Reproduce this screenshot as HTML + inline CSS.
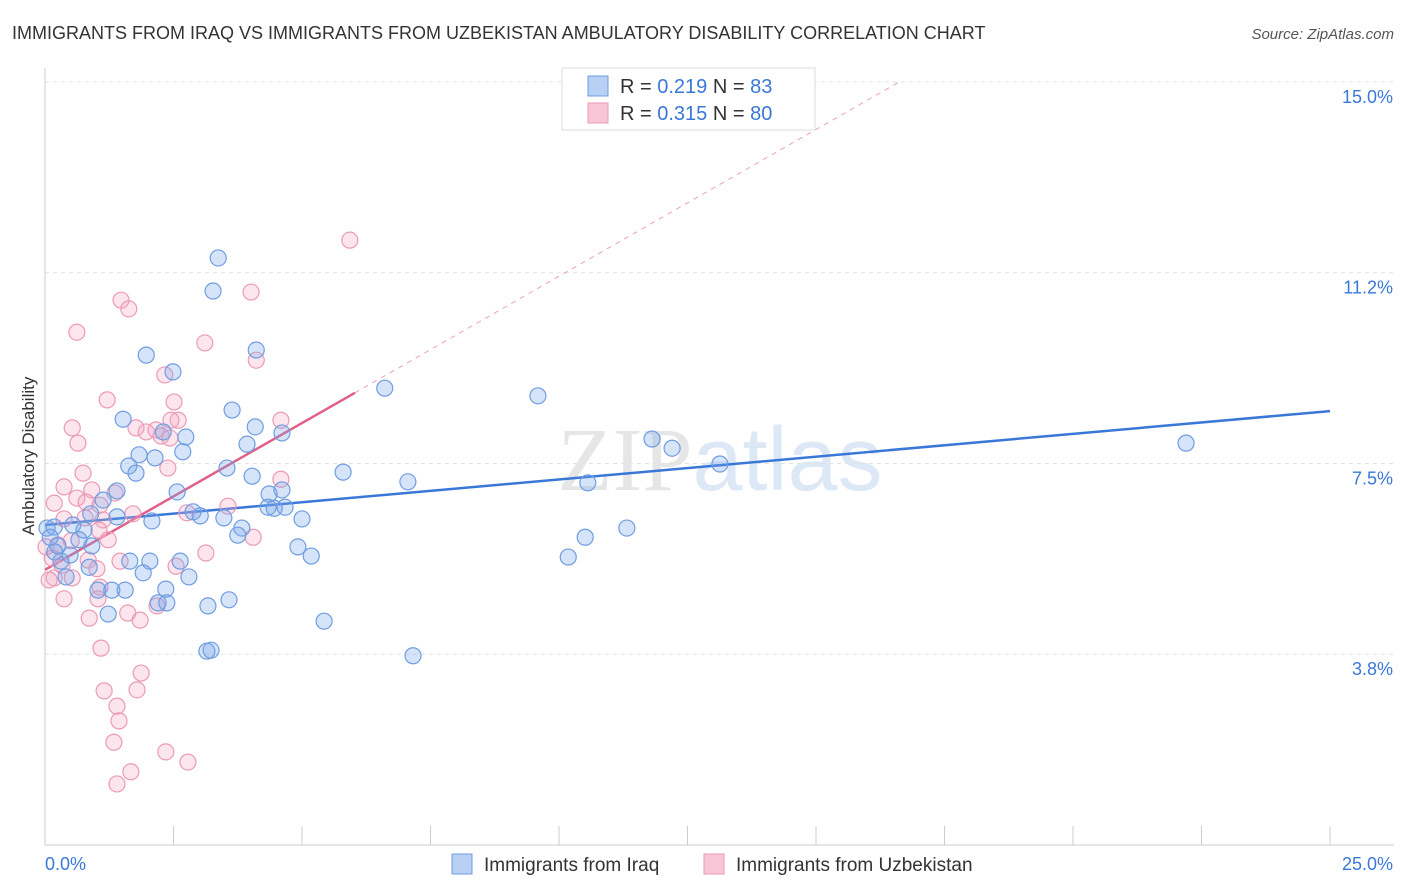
<!DOCTYPE html>
<html><head><meta charset="utf-8"><style>
body{margin:0;background:#fff;font-family:"Liberation Sans",sans-serif;}
#wrap{position:relative;width:1406px;height:892px;overflow:hidden;}
</style></head><body>
<div id="wrap">
<svg id="svg" width="1406" height="892" xmlns="http://www.w3.org/2000/svg" font-family="Liberation Sans, sans-serif">
<text x="12" y="39" font-size="18" fill="#333">IMMIGRANTS FROM IRAQ VS IMMIGRANTS FROM UZBEKISTAN AMBULATORY DISABILITY CORRELATION CHART</text>
<text x="1394" y="39" font-size="15" fill="#555" font-style="italic" text-anchor="end">Source: ZipAtlas.com</text>
<text x="720" y="490" font-size="90" fill="#e6e6e6" text-anchor="middle" font-family="Liberation Serif, serif">ZIP<tspan fill="#dde8f6" font-family="Liberation Sans, sans-serif">atlas</tspan></text>
<text transform="translate(34,456) rotate(-90)" font-size="17" fill="#333" text-anchor="middle">Ambulatory Disability</text>
<g id="grid"></g><g id="axes"></g><g id="lines"></g><g id="pts"></g>
<g>
<rect x="562" y="68" width="253" height="62" fill="#fff" stroke="#ddd"/>
<rect x="588" y="76" width="20" height="20" fill="#b7d0f3" stroke="#6f9de0"/>
<text x="620" y="93" font-size="20" fill="#333">R = <tspan fill="#3a78d8">0.219</tspan>   N = <tspan fill="#3a78d8">83</tspan></text>
<rect x="588" y="103" width="20" height="20" fill="#f8c6d6" stroke="#eb9ab5"/>
<text x="620" y="120" font-size="20" fill="#333">R = <tspan fill="#3a78d8">0.315</tspan>   N = <tspan fill="#3a78d8">80</tspan></text>
</g>
<g>
<rect x="452" y="854" width="20" height="20" fill="#b7d0f3" stroke="#6f9de0"/>
<text x="484" y="871" font-size="19" fill="#333">Immigrants from Iraq</text>
<rect x="704" y="854" width="20" height="20" fill="#f8c6d6" stroke="#eb9ab5"/>
<text x="736" y="871" font-size="19" fill="#333">Immigrants from Uzbekistan</text>
</g>
</svg></div>
<script>
const yTicks=[15.0,11.25,7.5,3.75];
const yTickLabels=["15.0%","11.2%","7.5%","3.8%"];
const xEndLabels=["0.0%","25.0%"];
const iraqX=[3.37,3.27,4.11,1.97,2.49,6.61,9.59,3.64,1.52,4.09,2.74,4.61,2.30,3.93,11.81,12.20,22.20,2.68,2.14,1.83,1.63,1.77,3.54,5.80,4.03,13.13,7.06,10.56,1.40,2.57,4.36,4.61,1.13,4.34,4.67,4.46,2.88,3.02,3.48,1.40,0.89,2.08,5.00,0.18,0.54,0.76,3.83,3.75,11.32,10.51,0.66,0.91,0.25,4.92,5.18,10.18,0.31,1.65,2.04,2.63,0.86,1.91,2.80,0.41,2.35,1.03,1.30,1.56,2.20,2.37,3.17,3.58,1.23,5.43,3.15,3.23,7.16,0.10,0.19,0.49,0.04];
const iraqY=[11.54,10.89,9.73,9.63,9.30,8.98,8.83,8.55,8.37,8.22,8.02,8.10,8.12,7.88,7.98,7.80,7.90,7.73,7.61,7.67,7.45,7.31,7.41,7.33,7.25,7.49,7.14,7.12,6.96,6.94,6.90,6.98,6.78,6.64,6.64,6.62,6.55,6.47,6.43,6.45,6.51,6.37,6.41,6.25,6.29,6.19,6.23,6.09,6.23,6.05,6.00,5.88,5.88,5.86,5.68,5.66,5.58,5.58,5.58,5.58,5.46,5.35,5.27,5.27,5.03,5.01,5.01,5.01,4.76,4.76,4.70,4.82,4.54,4.40,3.81,3.83,3.72,6.05,5.76,5.70,6.23];
const uzbX=[5.93,4.01,1.48,1.63,0.62,3.11,4.11,2.33,2.51,1.21,2.59,4.59,0.53,2.45,1.77,1.97,2.16,2.26,2.43,0.64,0.74,2.39,4.59,0.37,0.91,1.36,0.62,0.80,0.18,1.07,3.56,2.76,1.71,1.13,0.78,0.37,1.05,4.05,0.51,1.23,0.25,0.02,3.13,0.84,1.46,2.55,1.01,0.33,0.18,0.53,1.07,1.03,0.37,2.18,1.61,1.85,0.86,1.09,1.87,1.15,1.79,1.40,1.44,1.34,2.35,1.67,2.78,1.40,0.14,0.08];
const uzbY=[11.89,10.87,10.71,10.54,10.08,9.87,9.53,9.24,8.71,8.75,8.35,8.35,8.20,8.35,8.20,8.12,8.16,8.04,8.00,7.90,7.31,7.41,7.19,7.04,6.98,6.92,6.82,6.74,6.72,6.68,6.66,6.53,6.51,6.39,6.43,6.41,6.19,6.05,5.98,6.00,5.90,5.86,5.74,5.60,5.58,5.48,5.43,5.50,5.25,5.25,5.07,4.84,4.84,4.70,4.56,4.42,4.46,3.87,3.38,3.03,3.05,2.73,2.44,2.02,1.83,1.44,1.63,1.20,5.64,5.21];
const iraqTrend=[6.29,8.53];     // y at x=0 and x=25
const uzbTrend=[5.41,0.577,6.03]; // intercept, slope, solid-end x
const NS="http://www.w3.org/2000/svg";
const X0=45,X1=1330,Y0=845;
function xs(v){return X0+v*(X1-X0)/25;}
function ys(v){return Y0-v*50.87;}
function mk(tag,attrs,parent){const e=document.createElementNS(NS,tag);for(const k in attrs)e.setAttribute(k,attrs[k]);document.getElementById(parent).appendChild(e);return e;}
yTicks.forEach((t,i)=>{
  const l=mk('line',{x1:X0,x2:1394,y1:ys(t),y2:ys(t),stroke:'#e2e2e2','stroke-dasharray':'4,4'},'grid');
  
  
  const tx=mk('text',{x:1393,y:ys(t)+21,'font-size':18,fill:'#3a78d8','text-anchor':'end'},'axes');
  tx.textContent=yTickLabels[i];
  
  
});
let a=mk('line',{x1:X0,x2:X0,y1:68,y2:Y0,stroke:'#ccc'},'axes');


a=mk('line',{x1:X0,x2:1394,y1:Y0,y2:Y0,stroke:'#ccc'},'axes');


for(let i=0;i<=10;i++){
  const t=mk('line',{x1:xs(i*2.5),x2:xs(i*2.5),y1:826,y2:Y0,stroke:'#ccc'},'axes');
  
  
}
let xl=mk('text',{x:45,y:870,'font-size':18,fill:'#3a78d8'},'axes');xl.textContent=xEndLabels[0];


xl=mk('text',{x:1393,y:870,'font-size':18,fill:'#3a78d8','text-anchor':'end'},'axes');xl.textContent=xEndLabels[1];


function dots(X,Y,fill,stroke,name){
  X.forEach((v,i)=>{const c=mk('circle',{cx:xs(v),cy:ys(Y[i]),r:8,fill:fill,stroke:stroke,'stroke-width':1.2},'pts');
    
    });
}
dots(uzbX,uzbY,'rgba(244,170,195,0.3)','#eb9ab5','uzbekistan-point');
dots(iraqX,iraqY,'rgba(120,165,235,0.3)','#6f9de0','iraq-point');
let ln=mk('line',{x1:xs(0),y1:ys(iraqTrend[0]),x2:xs(25),y2:ys(iraqTrend[1]),stroke:'#3a78d8','stroke-width':2.5},'lines');


const ue=(15-uzbTrend[0])/uzbTrend[1];
ln=mk('line',{x1:xs(uzbTrend[2]),y1:ys(uzbTrend[0]+uzbTrend[1]*uzbTrend[2]),x2:xs(ue),y2:ys(15),stroke:'#eba0b8','stroke-width':1,'stroke-dasharray':'5,5'},'lines');


ln=mk('line',{x1:xs(0),y1:ys(uzbTrend[0]),x2:xs(uzbTrend[2]),y2:ys(uzbTrend[0]+uzbTrend[1]*uzbTrend[2]),stroke:'#e0608a','stroke-width':2.5},'lines');


</script>
</body></html>
